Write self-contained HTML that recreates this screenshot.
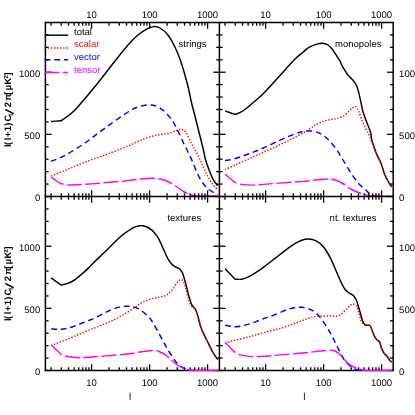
<!DOCTYPE html>
<html><head><meta charset="utf-8"><title>chart</title>
<style>
html,body{margin:0;padding:0;background:#fff;}
body{width:415px;height:415px;overflow:hidden;}
svg{display:block;}
svg text{font-family:"Liberation Sans",sans-serif;}
</style></head><body>
<svg width="415" height="415" viewBox="0 0 415 415">
<rect width="415" height="415" fill="#fff"/>
<path d="M51.07 121.50 C52.71 121.38 59.26 120.92 60.90 120.80 C62.10 119.98 65.93 117.52 68.10 115.90 C70.27 114.28 71.73 113.23 73.90 111.10 C76.07 108.97 78.68 105.87 81.10 103.10 C83.52 100.33 85.98 97.38 88.40 94.50 C90.82 91.62 92.92 89.13 95.60 85.80 C98.28 82.47 101.10 78.83 104.50 74.50 C107.90 70.17 112.08 64.72 116.00 59.80 C119.92 54.88 124.33 49.13 128.00 45.00 C131.67 40.87 134.67 37.77 138.00 35.00 C141.33 32.23 145.33 29.80 148.00 28.40 C150.67 27.00 152.00 26.67 154.00 26.60 C156.00 26.53 157.67 26.60 160.00 28.00 C162.33 29.40 165.43 31.67 168.00 35.00 C170.57 38.33 173.23 43.50 175.40 48.00 C177.57 52.50 179.00 56.00 181.00 62.00 C183.00 68.00 185.63 77.17 187.40 84.00 C189.17 90.83 190.30 97.50 191.60 103.00 C192.90 108.50 193.93 112.00 195.20 117.00 C196.47 122.00 197.87 127.67 199.20 133.00 C200.53 138.33 202.13 144.50 203.20 149.00 C204.27 153.50 204.58 156.40 205.60 160.00 C206.62 163.60 208.05 167.38 209.30 170.60 C210.55 173.82 211.72 176.80 213.10 179.30 C214.48 181.80 216.85 184.55 217.60 185.60" fill="none" stroke="#000000" stroke-width="1.45"/>
<path d="M51.00 176.00 C53.83 174.87 62.33 171.50 68.00 169.20 C73.67 166.90 78.83 164.57 85.00 162.20 C91.17 159.83 97.83 157.70 105.00 155.00 C112.17 152.30 122.50 148.25 128.00 146.00 C133.50 143.75 134.67 142.92 138.00 141.50 C141.33 140.08 144.67 138.58 148.00 137.50 C151.33 136.42 154.67 135.67 158.00 135.00 C161.33 134.33 165.00 134.20 168.00 133.50 C171.00 132.80 173.75 131.50 176.00 130.80 C178.25 130.10 179.83 129.02 181.50 129.30 C183.17 129.58 184.37 130.22 186.00 132.50 C187.63 134.78 189.60 139.75 191.30 143.00 C193.00 146.25 194.65 149.00 196.20 152.00 C197.75 155.00 199.22 158.07 200.60 161.00 C201.98 163.93 203.05 166.55 204.50 169.60 C205.95 172.65 207.70 176.57 209.30 179.30 C210.90 182.03 212.72 184.30 214.10 186.00 C215.48 187.70 217.02 188.92 217.60 189.50" fill="none" stroke="#ff0000" stroke-width="1.45" stroke-dasharray="1.4 1.7"/>
<path d="M51.00 161.40 C53.33 160.40 59.33 158.47 65.00 155.40 C70.67 152.33 78.33 147.57 85.00 143.00 C91.67 138.43 97.83 133.17 105.00 128.00 C112.17 122.83 122.50 115.50 128.00 112.00 C133.50 108.50 134.67 108.17 138.00 107.00 C141.33 105.83 145.00 105.17 148.00 105.00 C151.00 104.83 153.33 105.00 156.00 106.00 C158.67 107.00 161.33 108.67 164.00 111.00 C166.67 113.33 169.67 116.67 172.00 120.00 C174.33 123.33 176.00 127.00 178.00 131.00 C180.00 135.00 182.33 140.50 184.00 144.00 C185.67 147.50 186.68 149.28 188.00 152.00 C189.32 154.72 190.60 157.37 191.90 160.30 C193.20 163.23 194.52 166.68 195.80 169.60 C197.08 172.52 198.15 175.20 199.60 177.80 C201.05 180.40 202.88 183.22 204.50 185.20 C206.12 187.18 207.70 188.43 209.30 189.70 C210.90 190.97 212.68 192.05 214.10 192.80 C215.52 193.55 217.18 193.97 217.80 194.20" fill="none" stroke="#0000ff" stroke-width="1.45" stroke-dasharray="5.8 3.85"/>
<path d="M51.00 177.00 C51.83 177.58 54.33 179.40 56.00 180.50 C57.67 181.60 58.50 182.85 61.00 183.60 C63.50 184.35 65.33 185.00 71.00 185.00 C76.67 185.00 85.50 184.33 95.00 183.60 C104.50 182.87 120.50 181.37 128.00 180.60 C135.50 179.83 136.00 179.40 140.00 179.00 C144.00 178.60 148.67 178.20 152.00 178.20 C155.33 178.20 157.37 178.45 160.00 179.00 C162.63 179.55 165.18 180.33 167.80 181.50 C170.42 182.67 173.08 184.33 175.70 186.00 C178.32 187.67 180.90 190.00 183.50 191.50 C186.10 193.00 188.72 194.25 191.30 195.00 C193.88 195.75 197.72 195.83 199.00 196.00" fill="none" stroke="#ff00ff" stroke-width="1.45" stroke-dasharray="14.7 3.6"/>
<path d="M199.00 196.00 C202.13 196.00 214.67 196.00 217.80 196.00" fill="none" stroke="#ff00ff" stroke-width="1.45"/>
<path d="M225.06 110.90 C226.75 111.50 233.51 113.90 235.20 114.50 C236.28 114.02 239.82 112.63 241.70 111.60 C243.58 110.57 244.82 109.62 246.50 108.30 C248.18 106.98 249.23 105.92 251.80 103.70 C254.37 101.48 258.87 97.87 261.90 95.00 C264.93 92.13 266.98 89.75 270.00 86.50 C273.02 83.25 275.92 79.98 280.00 75.50 C284.08 71.02 290.67 63.48 294.50 59.60 C298.33 55.72 300.60 54.25 303.00 52.20 C305.40 50.15 306.72 48.60 308.90 47.30 C311.08 46.00 313.83 45.08 316.10 44.40 C318.37 43.72 320.52 43.10 322.50 43.20 C324.48 43.30 326.42 44.07 328.00 45.00 C329.58 45.93 330.85 47.45 332.00 48.80 C333.15 50.15 333.57 51.05 334.90 53.10 C336.23 55.15 338.78 58.97 340.00 61.10 C341.22 63.23 341.10 63.90 342.20 65.90 C343.30 67.90 345.22 71.12 346.60 73.10 C347.98 75.08 349.30 76.47 350.50 77.80 C351.70 79.13 352.77 79.72 353.80 81.10 C354.83 82.48 355.95 84.45 356.70 86.10 C357.45 87.75 357.82 89.30 358.30 91.00 C358.78 92.70 359.13 94.30 359.60 96.30 C360.07 98.30 360.62 100.72 361.10 103.00 C361.58 105.28 362.03 108.08 362.50 110.00 C362.97 111.92 363.15 112.33 363.90 114.50 C364.65 116.67 365.92 120.12 367.00 123.00 C368.08 125.88 369.60 128.97 370.40 131.80 C371.20 134.63 371.25 137.63 371.80 140.00 C372.35 142.37 372.98 143.83 373.70 146.00 C374.42 148.17 374.85 150.02 376.10 153.00 C377.35 155.98 379.75 160.28 381.20 163.90 C382.65 167.52 383.42 171.42 384.80 174.70 C386.18 177.98 388.33 181.58 389.50 183.60 C390.67 185.62 391.42 186.27 391.80 186.80" fill="none" stroke="#000000" stroke-width="1.45"/>
<path d="M225.06 169.60 C226.63 168.88 230.53 167.10 234.50 165.30 C238.47 163.50 244.08 160.97 248.90 158.80 C253.72 156.63 258.22 154.65 263.40 152.30 C268.58 149.95 274.82 147.15 280.00 144.70 C285.18 142.25 290.05 139.90 294.50 137.60 C298.95 135.30 303.10 133.07 306.70 130.90 C310.30 128.73 313.32 126.20 316.10 124.60 C318.88 123.00 320.98 122.13 323.40 121.30 C325.82 120.47 328.33 120.05 330.60 119.60 C332.87 119.15 334.82 119.22 337.00 118.60 C339.18 117.98 341.62 117.20 343.70 115.90 C345.78 114.60 348.03 112.15 349.50 110.80 C350.97 109.45 351.55 108.52 352.50 107.80 C353.45 107.08 354.45 106.50 355.20 106.50 C355.95 106.50 356.38 106.95 357.00 107.80 C357.62 108.65 357.98 109.28 358.90 111.60 C359.82 113.92 360.93 118.08 362.50 121.70 C364.07 125.32 366.75 129.92 368.30 133.30 C369.85 136.68 370.90 139.88 371.80 142.00 C372.70 144.12 372.98 144.17 373.70 146.00 C374.42 147.83 374.85 150.02 376.10 153.00 C377.35 155.98 379.75 160.28 381.20 163.90 C382.65 167.52 383.42 171.42 384.80 174.70 C386.18 177.98 388.33 181.58 389.50 183.60 C390.67 185.62 391.42 186.27 391.80 186.80" fill="none" stroke="#ff0000" stroke-width="1.45" stroke-dasharray="1.4 1.7"/>
<path d="M225.06 160.50 C226.63 160.22 230.53 159.93 234.50 158.80 C238.47 157.67 244.08 155.50 248.90 153.70 C253.72 151.90 258.22 150.25 263.40 148.00 C268.58 145.75 274.82 142.53 280.00 140.20 C285.18 137.87 290.88 135.38 294.50 134.00 C298.12 132.62 299.30 132.42 301.70 131.90 C304.10 131.38 306.50 130.90 308.90 130.90 C311.30 130.90 313.68 131.13 316.10 131.90 C318.52 132.67 320.98 133.82 323.40 135.50 C325.82 137.18 328.20 139.35 330.60 142.00 C333.00 144.65 335.73 148.40 337.80 151.40 C339.87 154.40 340.80 156.40 343.00 160.00 C345.20 163.60 348.42 169.08 351.00 173.00 C353.58 176.92 356.20 180.83 358.50 183.50 C360.80 186.17 362.85 187.27 364.80 189.00 C366.75 190.73 368.33 192.73 370.20 193.90 C372.07 195.07 375.03 195.65 376.00 196.00" fill="none" stroke="#0000ff" stroke-width="1.45" stroke-dasharray="5.8 3.85"/>
<path d="M225.06 174.30 C226.75 175.68 233.51 181.22 235.20 182.60 C236.03 182.85 237.18 183.68 240.20 184.10 C243.22 184.52 249.43 185.05 253.30 185.10 C257.17 185.15 258.95 184.73 263.40 184.40 C267.85 184.07 273.40 183.60 280.00 183.10 C286.60 182.60 297.17 181.92 303.00 181.40 C308.83 180.88 311.00 180.40 315.00 180.00 C319.00 179.60 323.67 179.00 327.00 179.00 C330.33 179.00 332.37 179.25 335.00 180.00 C337.63 180.75 340.18 182.00 342.80 183.50 C345.42 185.00 348.08 187.50 350.70 189.00 C353.32 190.50 356.15 191.57 358.50 192.50 C360.85 193.43 362.95 194.08 364.80 194.60 C366.65 195.12 367.90 195.38 369.60 195.60 C371.30 195.82 374.10 195.85 375.00 195.90" fill="none" stroke="#ff00ff" stroke-width="1.45" stroke-dasharray="14.7 3.6"/>
<path d="M375.00 195.90 C376.08 195.90 380.17 195.83 381.50 195.90 C382.83 195.97 381.28 196.23 383.00 196.30 C384.72 196.37 390.33 196.30 391.80 196.30" fill="none" stroke="#ff00ff" stroke-width="1.45"/>
<line x1="51.06" y1="22.50" x2="51.06" y2="25.70" stroke="#000" stroke-width="1.30"/>
<line x1="61.27" y1="22.50" x2="61.27" y2="25.70" stroke="#000" stroke-width="1.30"/>
<line x1="68.52" y1="22.50" x2="68.52" y2="25.70" stroke="#000" stroke-width="1.30"/>
<line x1="74.14" y1="22.50" x2="74.14" y2="25.70" stroke="#000" stroke-width="1.30"/>
<line x1="78.73" y1="22.50" x2="78.73" y2="25.70" stroke="#000" stroke-width="1.30"/>
<line x1="82.62" y1="22.50" x2="82.62" y2="25.70" stroke="#000" stroke-width="1.30"/>
<line x1="85.98" y1="22.50" x2="85.98" y2="25.70" stroke="#000" stroke-width="1.30"/>
<line x1="88.95" y1="22.50" x2="88.95" y2="25.70" stroke="#000" stroke-width="1.30"/>
<line x1="91.60" y1="22.50" x2="91.60" y2="28.70" stroke="#000" stroke-width="1.30"/>
<line x1="109.06" y1="22.50" x2="109.06" y2="25.70" stroke="#000" stroke-width="1.30"/>
<line x1="119.27" y1="22.50" x2="119.27" y2="25.70" stroke="#000" stroke-width="1.30"/>
<line x1="126.52" y1="22.50" x2="126.52" y2="25.70" stroke="#000" stroke-width="1.30"/>
<line x1="132.14" y1="22.50" x2="132.14" y2="25.70" stroke="#000" stroke-width="1.30"/>
<line x1="136.73" y1="22.50" x2="136.73" y2="25.70" stroke="#000" stroke-width="1.30"/>
<line x1="140.62" y1="22.50" x2="140.62" y2="25.70" stroke="#000" stroke-width="1.30"/>
<line x1="143.98" y1="22.50" x2="143.98" y2="25.70" stroke="#000" stroke-width="1.30"/>
<line x1="146.95" y1="22.50" x2="146.95" y2="25.70" stroke="#000" stroke-width="1.30"/>
<line x1="149.60" y1="22.50" x2="149.60" y2="28.70" stroke="#000" stroke-width="1.30"/>
<line x1="167.06" y1="22.50" x2="167.06" y2="25.70" stroke="#000" stroke-width="1.30"/>
<line x1="177.27" y1="22.50" x2="177.27" y2="25.70" stroke="#000" stroke-width="1.30"/>
<line x1="184.52" y1="22.50" x2="184.52" y2="25.70" stroke="#000" stroke-width="1.30"/>
<line x1="190.14" y1="22.50" x2="190.14" y2="25.70" stroke="#000" stroke-width="1.30"/>
<line x1="194.73" y1="22.50" x2="194.73" y2="25.70" stroke="#000" stroke-width="1.30"/>
<line x1="198.62" y1="22.50" x2="198.62" y2="25.70" stroke="#000" stroke-width="1.30"/>
<line x1="201.98" y1="22.50" x2="201.98" y2="25.70" stroke="#000" stroke-width="1.30"/>
<line x1="204.95" y1="22.50" x2="204.95" y2="25.70" stroke="#000" stroke-width="1.30"/>
<line x1="207.60" y1="22.50" x2="207.60" y2="28.70" stroke="#000" stroke-width="1.30"/>
<line x1="225.06" y1="22.50" x2="225.06" y2="25.70" stroke="#000" stroke-width="1.30"/>
<line x1="235.27" y1="22.50" x2="235.27" y2="25.70" stroke="#000" stroke-width="1.30"/>
<line x1="242.52" y1="22.50" x2="242.52" y2="25.70" stroke="#000" stroke-width="1.30"/>
<line x1="248.14" y1="22.50" x2="248.14" y2="25.70" stroke="#000" stroke-width="1.30"/>
<line x1="252.73" y1="22.50" x2="252.73" y2="25.70" stroke="#000" stroke-width="1.30"/>
<line x1="256.62" y1="22.50" x2="256.62" y2="25.70" stroke="#000" stroke-width="1.30"/>
<line x1="259.98" y1="22.50" x2="259.98" y2="25.70" stroke="#000" stroke-width="1.30"/>
<line x1="262.95" y1="22.50" x2="262.95" y2="25.70" stroke="#000" stroke-width="1.30"/>
<line x1="265.60" y1="22.50" x2="265.60" y2="28.70" stroke="#000" stroke-width="1.30"/>
<line x1="283.06" y1="22.50" x2="283.06" y2="25.70" stroke="#000" stroke-width="1.30"/>
<line x1="293.27" y1="22.50" x2="293.27" y2="25.70" stroke="#000" stroke-width="1.30"/>
<line x1="300.52" y1="22.50" x2="300.52" y2="25.70" stroke="#000" stroke-width="1.30"/>
<line x1="306.14" y1="22.50" x2="306.14" y2="25.70" stroke="#000" stroke-width="1.30"/>
<line x1="310.73" y1="22.50" x2="310.73" y2="25.70" stroke="#000" stroke-width="1.30"/>
<line x1="314.62" y1="22.50" x2="314.62" y2="25.70" stroke="#000" stroke-width="1.30"/>
<line x1="317.98" y1="22.50" x2="317.98" y2="25.70" stroke="#000" stroke-width="1.30"/>
<line x1="320.95" y1="22.50" x2="320.95" y2="25.70" stroke="#000" stroke-width="1.30"/>
<line x1="323.60" y1="22.50" x2="323.60" y2="28.70" stroke="#000" stroke-width="1.30"/>
<line x1="341.06" y1="22.50" x2="341.06" y2="25.70" stroke="#000" stroke-width="1.30"/>
<line x1="351.27" y1="22.50" x2="351.27" y2="25.70" stroke="#000" stroke-width="1.30"/>
<line x1="358.52" y1="22.50" x2="358.52" y2="25.70" stroke="#000" stroke-width="1.30"/>
<line x1="364.14" y1="22.50" x2="364.14" y2="25.70" stroke="#000" stroke-width="1.30"/>
<line x1="368.73" y1="22.50" x2="368.73" y2="25.70" stroke="#000" stroke-width="1.30"/>
<line x1="372.62" y1="22.50" x2="372.62" y2="25.70" stroke="#000" stroke-width="1.30"/>
<line x1="375.98" y1="22.50" x2="375.98" y2="25.70" stroke="#000" stroke-width="1.30"/>
<line x1="378.95" y1="22.50" x2="378.95" y2="25.70" stroke="#000" stroke-width="1.30"/>
<line x1="381.60" y1="22.50" x2="381.60" y2="28.70" stroke="#000" stroke-width="1.30"/>
<line x1="51.06" y1="193.30" x2="51.06" y2="199.70" stroke="#000" stroke-width="1.30"/>
<line x1="61.27" y1="193.30" x2="61.27" y2="199.70" stroke="#000" stroke-width="1.30"/>
<line x1="68.52" y1="193.30" x2="68.52" y2="199.70" stroke="#000" stroke-width="1.30"/>
<line x1="74.14" y1="193.30" x2="74.14" y2="199.70" stroke="#000" stroke-width="1.30"/>
<line x1="78.73" y1="193.30" x2="78.73" y2="199.70" stroke="#000" stroke-width="1.30"/>
<line x1="82.62" y1="193.30" x2="82.62" y2="199.70" stroke="#000" stroke-width="1.30"/>
<line x1="85.98" y1="193.30" x2="85.98" y2="199.70" stroke="#000" stroke-width="1.30"/>
<line x1="88.95" y1="193.30" x2="88.95" y2="199.70" stroke="#000" stroke-width="1.30"/>
<line x1="91.60" y1="190.30" x2="91.60" y2="202.70" stroke="#000" stroke-width="1.30"/>
<line x1="109.06" y1="193.30" x2="109.06" y2="199.70" stroke="#000" stroke-width="1.30"/>
<line x1="119.27" y1="193.30" x2="119.27" y2="199.70" stroke="#000" stroke-width="1.30"/>
<line x1="126.52" y1="193.30" x2="126.52" y2="199.70" stroke="#000" stroke-width="1.30"/>
<line x1="132.14" y1="193.30" x2="132.14" y2="199.70" stroke="#000" stroke-width="1.30"/>
<line x1="136.73" y1="193.30" x2="136.73" y2="199.70" stroke="#000" stroke-width="1.30"/>
<line x1="140.62" y1="193.30" x2="140.62" y2="199.70" stroke="#000" stroke-width="1.30"/>
<line x1="143.98" y1="193.30" x2="143.98" y2="199.70" stroke="#000" stroke-width="1.30"/>
<line x1="146.95" y1="193.30" x2="146.95" y2="199.70" stroke="#000" stroke-width="1.30"/>
<line x1="149.60" y1="190.30" x2="149.60" y2="202.70" stroke="#000" stroke-width="1.30"/>
<line x1="167.06" y1="193.30" x2="167.06" y2="199.70" stroke="#000" stroke-width="1.30"/>
<line x1="177.27" y1="193.30" x2="177.27" y2="199.70" stroke="#000" stroke-width="1.30"/>
<line x1="184.52" y1="193.30" x2="184.52" y2="199.70" stroke="#000" stroke-width="1.30"/>
<line x1="190.14" y1="193.30" x2="190.14" y2="199.70" stroke="#000" stroke-width="1.30"/>
<line x1="194.73" y1="193.30" x2="194.73" y2="199.70" stroke="#000" stroke-width="1.30"/>
<line x1="198.62" y1="193.30" x2="198.62" y2="199.70" stroke="#000" stroke-width="1.30"/>
<line x1="201.98" y1="193.30" x2="201.98" y2="199.70" stroke="#000" stroke-width="1.30"/>
<line x1="204.95" y1="193.30" x2="204.95" y2="199.70" stroke="#000" stroke-width="1.30"/>
<line x1="207.60" y1="190.30" x2="207.60" y2="202.70" stroke="#000" stroke-width="1.30"/>
<line x1="225.06" y1="193.30" x2="225.06" y2="199.70" stroke="#000" stroke-width="1.30"/>
<line x1="235.27" y1="193.30" x2="235.27" y2="199.70" stroke="#000" stroke-width="1.30"/>
<line x1="242.52" y1="193.30" x2="242.52" y2="199.70" stroke="#000" stroke-width="1.30"/>
<line x1="248.14" y1="193.30" x2="248.14" y2="199.70" stroke="#000" stroke-width="1.30"/>
<line x1="252.73" y1="193.30" x2="252.73" y2="199.70" stroke="#000" stroke-width="1.30"/>
<line x1="256.62" y1="193.30" x2="256.62" y2="199.70" stroke="#000" stroke-width="1.30"/>
<line x1="259.98" y1="193.30" x2="259.98" y2="199.70" stroke="#000" stroke-width="1.30"/>
<line x1="262.95" y1="193.30" x2="262.95" y2="199.70" stroke="#000" stroke-width="1.30"/>
<line x1="265.60" y1="190.30" x2="265.60" y2="202.70" stroke="#000" stroke-width="1.30"/>
<line x1="283.06" y1="193.30" x2="283.06" y2="199.70" stroke="#000" stroke-width="1.30"/>
<line x1="293.27" y1="193.30" x2="293.27" y2="199.70" stroke="#000" stroke-width="1.30"/>
<line x1="300.52" y1="193.30" x2="300.52" y2="199.70" stroke="#000" stroke-width="1.30"/>
<line x1="306.14" y1="193.30" x2="306.14" y2="199.70" stroke="#000" stroke-width="1.30"/>
<line x1="310.73" y1="193.30" x2="310.73" y2="199.70" stroke="#000" stroke-width="1.30"/>
<line x1="314.62" y1="193.30" x2="314.62" y2="199.70" stroke="#000" stroke-width="1.30"/>
<line x1="317.98" y1="193.30" x2="317.98" y2="199.70" stroke="#000" stroke-width="1.30"/>
<line x1="320.95" y1="193.30" x2="320.95" y2="199.70" stroke="#000" stroke-width="1.30"/>
<line x1="323.60" y1="190.30" x2="323.60" y2="202.70" stroke="#000" stroke-width="1.30"/>
<line x1="341.06" y1="193.30" x2="341.06" y2="199.70" stroke="#000" stroke-width="1.30"/>
<line x1="351.27" y1="193.30" x2="351.27" y2="199.70" stroke="#000" stroke-width="1.30"/>
<line x1="358.52" y1="193.30" x2="358.52" y2="199.70" stroke="#000" stroke-width="1.30"/>
<line x1="364.14" y1="193.30" x2="364.14" y2="199.70" stroke="#000" stroke-width="1.30"/>
<line x1="368.73" y1="193.30" x2="368.73" y2="199.70" stroke="#000" stroke-width="1.30"/>
<line x1="372.62" y1="193.30" x2="372.62" y2="199.70" stroke="#000" stroke-width="1.30"/>
<line x1="375.98" y1="193.30" x2="375.98" y2="199.70" stroke="#000" stroke-width="1.30"/>
<line x1="378.95" y1="193.30" x2="378.95" y2="199.70" stroke="#000" stroke-width="1.30"/>
<line x1="381.60" y1="190.30" x2="381.60" y2="202.70" stroke="#000" stroke-width="1.30"/>
<line x1="45.40" y1="196.50" x2="51.60" y2="196.50" stroke="#000" stroke-width="1.30"/>
<line x1="45.40" y1="184.07" x2="48.60" y2="184.07" stroke="#000" stroke-width="1.30"/>
<line x1="45.40" y1="171.64" x2="48.60" y2="171.64" stroke="#000" stroke-width="1.30"/>
<line x1="45.40" y1="159.21" x2="48.60" y2="159.21" stroke="#000" stroke-width="1.30"/>
<line x1="45.40" y1="146.79" x2="48.60" y2="146.79" stroke="#000" stroke-width="1.30"/>
<line x1="45.40" y1="134.36" x2="51.60" y2="134.36" stroke="#000" stroke-width="1.30"/>
<line x1="45.40" y1="121.93" x2="48.60" y2="121.93" stroke="#000" stroke-width="1.30"/>
<line x1="45.40" y1="109.50" x2="48.60" y2="109.50" stroke="#000" stroke-width="1.30"/>
<line x1="45.40" y1="97.07" x2="48.60" y2="97.07" stroke="#000" stroke-width="1.30"/>
<line x1="45.40" y1="84.64" x2="48.60" y2="84.64" stroke="#000" stroke-width="1.30"/>
<line x1="45.40" y1="72.21" x2="51.60" y2="72.21" stroke="#000" stroke-width="1.30"/>
<line x1="45.40" y1="59.79" x2="48.60" y2="59.79" stroke="#000" stroke-width="1.30"/>
<line x1="45.40" y1="47.36" x2="48.60" y2="47.36" stroke="#000" stroke-width="1.30"/>
<line x1="45.40" y1="34.93" x2="48.60" y2="34.93" stroke="#000" stroke-width="1.30"/>
<line x1="45.40" y1="370.50" x2="51.60" y2="370.50" stroke="#000" stroke-width="1.30"/>
<line x1="45.40" y1="358.07" x2="48.60" y2="358.07" stroke="#000" stroke-width="1.30"/>
<line x1="45.40" y1="345.64" x2="48.60" y2="345.64" stroke="#000" stroke-width="1.30"/>
<line x1="45.40" y1="333.21" x2="48.60" y2="333.21" stroke="#000" stroke-width="1.30"/>
<line x1="45.40" y1="320.79" x2="48.60" y2="320.79" stroke="#000" stroke-width="1.30"/>
<line x1="45.40" y1="308.36" x2="51.60" y2="308.36" stroke="#000" stroke-width="1.30"/>
<line x1="45.40" y1="295.93" x2="48.60" y2="295.93" stroke="#000" stroke-width="1.30"/>
<line x1="45.40" y1="283.50" x2="48.60" y2="283.50" stroke="#000" stroke-width="1.30"/>
<line x1="45.40" y1="271.07" x2="48.60" y2="271.07" stroke="#000" stroke-width="1.30"/>
<line x1="45.40" y1="258.64" x2="48.60" y2="258.64" stroke="#000" stroke-width="1.30"/>
<line x1="45.40" y1="246.21" x2="51.60" y2="246.21" stroke="#000" stroke-width="1.30"/>
<line x1="45.40" y1="233.79" x2="48.60" y2="233.79" stroke="#000" stroke-width="1.30"/>
<line x1="45.40" y1="221.36" x2="48.60" y2="221.36" stroke="#000" stroke-width="1.30"/>
<line x1="45.40" y1="208.93" x2="48.60" y2="208.93" stroke="#000" stroke-width="1.30"/>
<line x1="213.20" y1="196.50" x2="225.60" y2="196.50" stroke="#000" stroke-width="1.30"/>
<line x1="216.20" y1="184.07" x2="222.60" y2="184.07" stroke="#000" stroke-width="1.30"/>
<line x1="216.20" y1="171.64" x2="222.60" y2="171.64" stroke="#000" stroke-width="1.30"/>
<line x1="216.20" y1="159.21" x2="222.60" y2="159.21" stroke="#000" stroke-width="1.30"/>
<line x1="216.20" y1="146.79" x2="222.60" y2="146.79" stroke="#000" stroke-width="1.30"/>
<line x1="213.20" y1="134.36" x2="225.60" y2="134.36" stroke="#000" stroke-width="1.30"/>
<line x1="216.20" y1="121.93" x2="222.60" y2="121.93" stroke="#000" stroke-width="1.30"/>
<line x1="216.20" y1="109.50" x2="222.60" y2="109.50" stroke="#000" stroke-width="1.30"/>
<line x1="216.20" y1="97.07" x2="222.60" y2="97.07" stroke="#000" stroke-width="1.30"/>
<line x1="216.20" y1="84.64" x2="222.60" y2="84.64" stroke="#000" stroke-width="1.30"/>
<line x1="213.20" y1="72.21" x2="225.60" y2="72.21" stroke="#000" stroke-width="1.30"/>
<line x1="216.20" y1="59.79" x2="222.60" y2="59.79" stroke="#000" stroke-width="1.30"/>
<line x1="216.20" y1="47.36" x2="222.60" y2="47.36" stroke="#000" stroke-width="1.30"/>
<line x1="216.20" y1="34.93" x2="222.60" y2="34.93" stroke="#000" stroke-width="1.30"/>
<line x1="213.20" y1="370.50" x2="225.60" y2="370.50" stroke="#000" stroke-width="1.30"/>
<line x1="216.20" y1="358.07" x2="222.60" y2="358.07" stroke="#000" stroke-width="1.30"/>
<line x1="216.20" y1="345.64" x2="222.60" y2="345.64" stroke="#000" stroke-width="1.30"/>
<line x1="216.20" y1="333.21" x2="222.60" y2="333.21" stroke="#000" stroke-width="1.30"/>
<line x1="216.20" y1="320.79" x2="222.60" y2="320.79" stroke="#000" stroke-width="1.30"/>
<line x1="213.20" y1="308.36" x2="225.60" y2="308.36" stroke="#000" stroke-width="1.30"/>
<line x1="216.20" y1="295.93" x2="222.60" y2="295.93" stroke="#000" stroke-width="1.30"/>
<line x1="216.20" y1="283.50" x2="222.60" y2="283.50" stroke="#000" stroke-width="1.30"/>
<line x1="216.20" y1="271.07" x2="222.60" y2="271.07" stroke="#000" stroke-width="1.30"/>
<line x1="216.20" y1="258.64" x2="222.60" y2="258.64" stroke="#000" stroke-width="1.30"/>
<line x1="213.20" y1="246.21" x2="225.60" y2="246.21" stroke="#000" stroke-width="1.30"/>
<line x1="216.20" y1="233.79" x2="222.60" y2="233.79" stroke="#000" stroke-width="1.30"/>
<line x1="216.20" y1="221.36" x2="222.60" y2="221.36" stroke="#000" stroke-width="1.30"/>
<line x1="216.20" y1="208.93" x2="222.60" y2="208.93" stroke="#000" stroke-width="1.30"/>
<line x1="387.00" y1="196.50" x2="393.20" y2="196.50" stroke="#000" stroke-width="1.30"/>
<line x1="390.00" y1="184.07" x2="393.20" y2="184.07" stroke="#000" stroke-width="1.30"/>
<line x1="390.00" y1="171.64" x2="393.20" y2="171.64" stroke="#000" stroke-width="1.30"/>
<line x1="390.00" y1="159.21" x2="393.20" y2="159.21" stroke="#000" stroke-width="1.30"/>
<line x1="390.00" y1="146.79" x2="393.20" y2="146.79" stroke="#000" stroke-width="1.30"/>
<line x1="387.00" y1="134.36" x2="393.20" y2="134.36" stroke="#000" stroke-width="1.30"/>
<line x1="390.00" y1="121.93" x2="393.20" y2="121.93" stroke="#000" stroke-width="1.30"/>
<line x1="390.00" y1="109.50" x2="393.20" y2="109.50" stroke="#000" stroke-width="1.30"/>
<line x1="390.00" y1="97.07" x2="393.20" y2="97.07" stroke="#000" stroke-width="1.30"/>
<line x1="390.00" y1="84.64" x2="393.20" y2="84.64" stroke="#000" stroke-width="1.30"/>
<line x1="387.00" y1="72.21" x2="393.20" y2="72.21" stroke="#000" stroke-width="1.30"/>
<line x1="390.00" y1="59.79" x2="393.20" y2="59.79" stroke="#000" stroke-width="1.30"/>
<line x1="390.00" y1="47.36" x2="393.20" y2="47.36" stroke="#000" stroke-width="1.30"/>
<line x1="390.00" y1="34.93" x2="393.20" y2="34.93" stroke="#000" stroke-width="1.30"/>
<line x1="387.00" y1="370.50" x2="393.20" y2="370.50" stroke="#000" stroke-width="1.30"/>
<line x1="390.00" y1="358.07" x2="393.20" y2="358.07" stroke="#000" stroke-width="1.30"/>
<line x1="390.00" y1="345.64" x2="393.20" y2="345.64" stroke="#000" stroke-width="1.30"/>
<line x1="390.00" y1="333.21" x2="393.20" y2="333.21" stroke="#000" stroke-width="1.30"/>
<line x1="390.00" y1="320.79" x2="393.20" y2="320.79" stroke="#000" stroke-width="1.30"/>
<line x1="387.00" y1="308.36" x2="393.20" y2="308.36" stroke="#000" stroke-width="1.30"/>
<line x1="390.00" y1="295.93" x2="393.20" y2="295.93" stroke="#000" stroke-width="1.30"/>
<line x1="390.00" y1="283.50" x2="393.20" y2="283.50" stroke="#000" stroke-width="1.30"/>
<line x1="390.00" y1="271.07" x2="393.20" y2="271.07" stroke="#000" stroke-width="1.30"/>
<line x1="390.00" y1="258.64" x2="393.20" y2="258.64" stroke="#000" stroke-width="1.30"/>
<line x1="387.00" y1="246.21" x2="393.20" y2="246.21" stroke="#000" stroke-width="1.30"/>
<line x1="390.00" y1="233.79" x2="393.20" y2="233.79" stroke="#000" stroke-width="1.30"/>
<line x1="390.00" y1="221.36" x2="393.20" y2="221.36" stroke="#000" stroke-width="1.30"/>
<line x1="390.00" y1="208.93" x2="393.20" y2="208.93" stroke="#000" stroke-width="1.30"/>
<line x1="51.06" y1="367.30" x2="51.06" y2="370.50" stroke="#000" stroke-width="1.30"/>
<line x1="61.27" y1="367.30" x2="61.27" y2="370.50" stroke="#000" stroke-width="1.30"/>
<line x1="68.52" y1="367.30" x2="68.52" y2="370.50" stroke="#000" stroke-width="1.30"/>
<line x1="74.14" y1="367.30" x2="74.14" y2="370.50" stroke="#000" stroke-width="1.30"/>
<line x1="78.73" y1="367.30" x2="78.73" y2="370.50" stroke="#000" stroke-width="1.30"/>
<line x1="82.62" y1="367.30" x2="82.62" y2="370.50" stroke="#000" stroke-width="1.30"/>
<line x1="85.98" y1="367.30" x2="85.98" y2="370.50" stroke="#000" stroke-width="1.30"/>
<line x1="88.95" y1="367.30" x2="88.95" y2="370.50" stroke="#000" stroke-width="1.30"/>
<line x1="91.60" y1="364.30" x2="91.60" y2="370.50" stroke="#000" stroke-width="1.30"/>
<line x1="109.06" y1="367.30" x2="109.06" y2="370.50" stroke="#000" stroke-width="1.30"/>
<line x1="119.27" y1="367.30" x2="119.27" y2="370.50" stroke="#000" stroke-width="1.30"/>
<line x1="126.52" y1="367.30" x2="126.52" y2="370.50" stroke="#000" stroke-width="1.30"/>
<line x1="132.14" y1="367.30" x2="132.14" y2="370.50" stroke="#000" stroke-width="1.30"/>
<line x1="136.73" y1="367.30" x2="136.73" y2="370.50" stroke="#000" stroke-width="1.30"/>
<line x1="140.62" y1="367.30" x2="140.62" y2="370.50" stroke="#000" stroke-width="1.30"/>
<line x1="143.98" y1="367.30" x2="143.98" y2="370.50" stroke="#000" stroke-width="1.30"/>
<line x1="146.95" y1="367.30" x2="146.95" y2="370.50" stroke="#000" stroke-width="1.30"/>
<line x1="149.60" y1="364.30" x2="149.60" y2="370.50" stroke="#000" stroke-width="1.30"/>
<line x1="167.06" y1="367.30" x2="167.06" y2="370.50" stroke="#000" stroke-width="1.30"/>
<line x1="177.27" y1="367.30" x2="177.27" y2="370.50" stroke="#000" stroke-width="1.30"/>
<line x1="184.52" y1="367.30" x2="184.52" y2="370.50" stroke="#000" stroke-width="1.30"/>
<line x1="190.14" y1="367.30" x2="190.14" y2="370.50" stroke="#000" stroke-width="1.30"/>
<line x1="194.73" y1="367.30" x2="194.73" y2="370.50" stroke="#000" stroke-width="1.30"/>
<line x1="198.62" y1="367.30" x2="198.62" y2="370.50" stroke="#000" stroke-width="1.30"/>
<line x1="201.98" y1="367.30" x2="201.98" y2="370.50" stroke="#000" stroke-width="1.30"/>
<line x1="204.95" y1="367.30" x2="204.95" y2="370.50" stroke="#000" stroke-width="1.30"/>
<line x1="207.60" y1="364.30" x2="207.60" y2="370.50" stroke="#000" stroke-width="1.30"/>
<line x1="225.06" y1="367.30" x2="225.06" y2="370.50" stroke="#000" stroke-width="1.30"/>
<line x1="235.27" y1="367.30" x2="235.27" y2="370.50" stroke="#000" stroke-width="1.30"/>
<line x1="242.52" y1="367.30" x2="242.52" y2="370.50" stroke="#000" stroke-width="1.30"/>
<line x1="248.14" y1="367.30" x2="248.14" y2="370.50" stroke="#000" stroke-width="1.30"/>
<line x1="252.73" y1="367.30" x2="252.73" y2="370.50" stroke="#000" stroke-width="1.30"/>
<line x1="256.62" y1="367.30" x2="256.62" y2="370.50" stroke="#000" stroke-width="1.30"/>
<line x1="259.98" y1="367.30" x2="259.98" y2="370.50" stroke="#000" stroke-width="1.30"/>
<line x1="262.95" y1="367.30" x2="262.95" y2="370.50" stroke="#000" stroke-width="1.30"/>
<line x1="265.60" y1="364.30" x2="265.60" y2="370.50" stroke="#000" stroke-width="1.30"/>
<line x1="283.06" y1="367.30" x2="283.06" y2="370.50" stroke="#000" stroke-width="1.30"/>
<line x1="293.27" y1="367.30" x2="293.27" y2="370.50" stroke="#000" stroke-width="1.30"/>
<line x1="300.52" y1="367.30" x2="300.52" y2="370.50" stroke="#000" stroke-width="1.30"/>
<line x1="306.14" y1="367.30" x2="306.14" y2="370.50" stroke="#000" stroke-width="1.30"/>
<line x1="310.73" y1="367.30" x2="310.73" y2="370.50" stroke="#000" stroke-width="1.30"/>
<line x1="314.62" y1="367.30" x2="314.62" y2="370.50" stroke="#000" stroke-width="1.30"/>
<line x1="317.98" y1="367.30" x2="317.98" y2="370.50" stroke="#000" stroke-width="1.30"/>
<line x1="320.95" y1="367.30" x2="320.95" y2="370.50" stroke="#000" stroke-width="1.30"/>
<line x1="323.60" y1="364.30" x2="323.60" y2="370.50" stroke="#000" stroke-width="1.30"/>
<line x1="341.06" y1="367.30" x2="341.06" y2="370.50" stroke="#000" stroke-width="1.30"/>
<line x1="351.27" y1="367.30" x2="351.27" y2="370.50" stroke="#000" stroke-width="1.30"/>
<line x1="358.52" y1="367.30" x2="358.52" y2="370.50" stroke="#000" stroke-width="1.30"/>
<line x1="364.14" y1="367.30" x2="364.14" y2="370.50" stroke="#000" stroke-width="1.30"/>
<line x1="368.73" y1="367.30" x2="368.73" y2="370.50" stroke="#000" stroke-width="1.30"/>
<line x1="372.62" y1="367.30" x2="372.62" y2="370.50" stroke="#000" stroke-width="1.30"/>
<line x1="375.98" y1="367.30" x2="375.98" y2="370.50" stroke="#000" stroke-width="1.30"/>
<line x1="378.95" y1="367.30" x2="378.95" y2="370.50" stroke="#000" stroke-width="1.30"/>
<line x1="381.60" y1="364.30" x2="381.60" y2="370.50" stroke="#000" stroke-width="1.30"/>
<line x1="44.65" y1="22.50" x2="393.95" y2="22.50" stroke="#000" stroke-width="1.50"/>
<line x1="44.65" y1="196.50" x2="393.95" y2="196.50" stroke="#000" stroke-width="1.50"/>
<line x1="44.65" y1="370.50" x2="393.95" y2="370.50" stroke="#000" stroke-width="1.50"/>
<line x1="45.40" y1="22.50" x2="45.40" y2="370.50" stroke="#000" stroke-width="1.50"/>
<line x1="219.40" y1="22.50" x2="219.40" y2="370.50" stroke="#000" stroke-width="1.50"/>
<line x1="393.20" y1="22.50" x2="393.20" y2="370.50" stroke="#000" stroke-width="1.50"/>
<path d="M51.07 277.80 C52.71 279.00 59.26 283.80 60.90 285.00 C62.10 284.72 65.93 284.07 68.10 283.30 C70.27 282.53 71.73 281.85 73.90 280.40 C76.07 278.95 78.68 276.65 81.10 274.60 C83.52 272.55 85.98 270.40 88.40 268.10 C90.82 265.80 92.83 263.52 95.60 260.80 C98.37 258.08 101.02 255.68 105.00 251.80 C108.98 247.92 115.67 240.97 119.50 237.50 C123.33 234.03 125.60 232.68 128.00 231.00 C130.40 229.32 132.15 228.23 133.90 227.40 C135.65 226.57 137.05 226.28 138.50 226.00 C139.95 225.72 141.18 225.53 142.60 225.70 C144.02 225.87 145.55 226.35 147.00 227.00 C148.45 227.65 149.97 228.52 151.30 229.60 C152.63 230.68 153.80 232.05 155.00 233.50 C156.20 234.95 157.07 235.63 158.50 238.30 C159.93 240.97 161.90 245.87 163.60 249.50 C165.30 253.13 167.02 257.37 168.70 260.10 C170.38 262.83 172.02 264.53 173.70 265.90 C175.38 267.27 177.53 267.48 178.80 268.30 C180.07 269.12 180.58 269.75 181.30 270.80 C182.02 271.85 182.32 272.28 183.10 274.60 C183.88 276.92 185.03 281.08 186.00 284.70 C186.97 288.32 187.93 292.93 188.90 296.30 C189.87 299.67 190.72 302.73 191.80 304.90 C192.88 307.07 194.40 307.45 195.40 309.30 C196.40 311.15 196.95 313.22 197.80 316.00 C198.65 318.78 199.48 322.93 200.50 326.00 C201.52 329.07 202.55 331.43 203.90 334.40 C205.25 337.37 207.03 340.67 208.60 343.80 C210.17 346.93 211.78 350.57 213.30 353.20 C214.82 355.83 216.97 358.53 217.70 359.60" fill="none" stroke="#000000" stroke-width="1.45"/>
<path d="M51.07 345.50 C52.48 344.97 55.70 343.80 59.50 342.30 C63.30 340.80 69.08 338.50 73.90 336.50 C78.72 334.50 83.22 332.42 88.40 330.30 C93.58 328.18 99.82 326.00 105.00 323.80 C110.18 321.60 114.68 319.72 119.50 317.10 C124.32 314.48 130.30 310.43 133.90 308.10 C137.50 305.77 138.68 304.47 141.10 303.10 C143.52 301.73 145.98 300.80 148.40 299.90 C150.82 299.00 153.67 298.18 155.60 297.70 C157.53 297.22 158.30 297.37 160.00 297.00 C161.70 296.63 163.87 296.58 165.80 295.50 C167.73 294.42 169.68 292.67 171.60 290.50 C173.52 288.33 175.98 284.22 177.30 282.50 C178.62 280.78 178.88 280.68 179.50 280.20 C180.12 279.72 180.50 279.58 181.00 279.60 C181.50 279.62 182.02 279.82 182.50 280.30 C182.98 280.78 183.32 281.05 183.90 282.50 C184.48 283.95 185.28 286.47 186.00 289.00 C186.72 291.53 187.35 294.92 188.20 297.70 C189.05 300.48 189.90 303.77 191.10 305.70 C192.30 307.63 194.28 307.58 195.40 309.30 C196.52 311.02 196.95 313.22 197.80 316.00 C198.65 318.78 199.48 322.93 200.50 326.00 C201.52 329.07 202.55 331.43 203.90 334.40 C205.25 337.37 207.03 340.67 208.60 343.80 C210.17 346.93 211.78 350.57 213.30 353.20 C214.82 355.83 216.97 358.53 217.70 359.60" fill="none" stroke="#ff0000" stroke-width="1.45" stroke-dasharray="1.4 1.7"/>
<path d="M51.07 328.90 C52.48 328.97 56.89 329.38 59.50 329.30 C62.11 329.22 64.30 328.88 66.70 328.40 C69.10 327.92 71.50 327.22 73.90 326.40 C76.30 325.58 78.68 324.47 81.10 323.50 C83.52 322.53 85.98 321.57 88.40 320.60 C90.82 319.63 92.83 319.02 95.60 317.70 C98.37 316.38 102.23 314.10 105.00 312.70 C107.77 311.30 109.78 310.23 112.20 309.30 C114.62 308.37 117.08 307.60 119.50 307.10 C121.92 306.60 124.30 306.32 126.70 306.30 C129.10 306.28 131.50 306.33 133.90 307.00 C136.30 307.67 138.68 308.67 141.10 310.30 C143.52 311.93 146.73 315.18 148.40 316.80 C150.07 318.42 149.90 318.23 151.10 320.00 C152.30 321.77 153.55 323.78 155.60 327.40 C157.65 331.02 161.17 337.68 163.40 341.70 C165.63 345.72 167.08 348.37 169.00 351.50 C170.92 354.63 173.32 358.33 174.90 360.50 C176.48 362.67 177.07 363.25 178.50 364.50 C179.93 365.75 181.62 367.08 183.50 368.00 C185.38 368.92 187.88 369.58 189.80 370.00 C191.72 370.42 194.13 370.42 195.00 370.50" fill="none" stroke="#0000ff" stroke-width="1.45" stroke-dasharray="5.8 3.85"/>
<path d="M51.07 344.80 C52.71 346.37 59.26 352.63 60.90 354.20 C61.87 354.55 63.80 355.70 66.70 356.30 C69.60 356.90 74.68 357.63 78.30 357.80 C81.92 357.97 83.95 357.62 88.40 357.30 C92.85 356.98 98.40 356.45 105.00 355.90 C111.60 355.35 122.17 354.65 128.00 354.00 C133.83 353.35 135.67 352.58 140.00 352.00 C144.33 351.42 150.67 350.50 154.00 350.50 C157.33 350.50 157.95 351.17 160.00 352.00 C162.05 352.83 164.22 354.00 166.30 355.50 C168.38 357.00 170.42 359.25 172.50 361.00 C174.58 362.75 176.72 364.68 178.80 366.00 C180.88 367.32 182.92 368.18 185.00 368.90 C187.08 369.62 190.25 370.07 191.30 370.30" fill="none" stroke="#ff00ff" stroke-width="1.45" stroke-dasharray="14.7 3.6"/>
<path d="M191.30 370.30 C195.72 370.33 213.38 370.47 217.80 370.50" fill="none" stroke="#ff00ff" stroke-width="1.45"/>
<path d="M225.06 268.70 C226.75 270.45 233.51 277.45 235.20 279.20 C236.28 279.20 239.42 279.63 241.70 279.20 C243.98 278.77 246.50 277.73 248.90 276.60 C251.30 275.47 253.68 273.95 256.10 272.40 C258.52 270.85 260.98 269.07 263.40 267.30 C265.82 265.53 267.83 263.93 270.60 261.80 C273.37 259.67 277.23 256.65 280.00 254.50 C282.77 252.35 284.78 250.68 287.20 248.90 C289.62 247.12 292.08 245.25 294.50 243.80 C296.92 242.35 299.30 241.00 301.70 240.20 C304.10 239.40 306.50 238.88 308.90 239.00 C311.30 239.12 313.68 239.62 316.10 240.90 C318.52 242.18 320.98 243.80 323.40 246.70 C325.82 249.60 328.55 254.42 330.60 258.30 C332.65 262.18 334.00 266.12 335.70 270.00 C337.40 273.88 339.23 278.35 340.80 281.60 C342.37 284.85 343.65 287.58 345.10 289.50 C346.55 291.42 348.05 292.02 349.50 293.10 C350.95 294.18 352.60 294.67 353.80 296.00 C355.00 297.33 355.73 298.68 356.70 301.10 C357.67 303.52 358.63 307.25 359.60 310.50 C360.57 313.75 361.67 318.28 362.50 320.60 C363.33 322.92 363.85 323.62 364.60 324.40 C365.35 325.18 366.15 325.12 367.00 325.30 C367.85 325.48 369.00 325.05 369.70 325.50 C370.40 325.95 370.72 326.92 371.20 328.00 C371.68 329.08 371.88 330.32 372.60 332.00 C373.32 333.68 374.68 336.73 375.50 338.10 C376.32 339.47 376.90 339.68 377.50 340.20 C378.10 340.72 378.63 340.57 379.10 341.20 C379.57 341.83 379.90 342.82 380.30 344.00 C380.70 345.18 380.85 346.75 381.50 348.30 C382.15 349.85 383.28 351.98 384.20 353.30 C385.12 354.62 386.05 355.00 387.00 356.20 C387.95 357.40 389.10 359.50 389.90 360.50 C390.70 361.50 391.48 361.92 391.80 362.20" fill="none" stroke="#000000" stroke-width="1.45"/>
<path d="M225.06 342.90 C226.63 342.48 230.53 341.42 234.50 340.40 C238.47 339.38 244.08 338.07 248.90 336.80 C253.72 335.53 258.22 334.18 263.40 332.80 C268.58 331.42 276.03 329.62 280.00 328.50 C283.97 327.38 284.78 326.93 287.20 326.10 C289.62 325.27 292.08 324.38 294.50 323.50 C296.92 322.62 299.30 321.68 301.70 320.80 C304.10 319.92 306.50 318.95 308.90 318.20 C311.30 317.45 313.68 316.67 316.10 316.30 C318.52 315.93 320.98 316.05 323.40 316.00 C325.82 315.95 328.67 315.93 330.60 316.00 C332.53 316.07 333.30 316.65 335.00 316.40 C336.70 316.15 338.87 315.73 340.80 314.50 C342.73 313.27 345.07 310.50 346.60 309.00 C348.13 307.50 349.05 306.33 350.00 305.50 C350.95 304.67 351.47 304.13 352.30 304.00 C353.13 303.87 354.27 304.28 355.00 304.70 C355.73 305.12 356.05 305.05 356.70 306.50 C357.35 307.95 358.18 311.05 358.90 313.40 C359.62 315.75 360.17 318.73 361.00 320.60 C361.83 322.47 362.90 323.82 363.90 324.60 C364.90 325.38 366.03 325.15 367.00 325.30 C367.97 325.45 369.00 325.05 369.70 325.50 C370.40 325.95 370.72 326.92 371.20 328.00 C371.68 329.08 371.88 330.32 372.60 332.00 C373.32 333.68 374.68 336.73 375.50 338.10 C376.32 339.47 376.90 339.68 377.50 340.20 C378.10 340.72 378.63 340.57 379.10 341.20 C379.57 341.83 379.90 342.82 380.30 344.00 C380.70 345.18 380.85 346.75 381.50 348.30 C382.15 349.85 383.28 351.98 384.20 353.30 C385.12 354.62 386.05 355.00 387.00 356.20 C387.95 357.40 389.10 359.50 389.90 360.50 C390.70 361.50 391.48 361.92 391.80 362.20" fill="none" stroke="#ff0000" stroke-width="1.45" stroke-dasharray="1.4 1.7"/>
<path d="M225.06 325.20 C226.63 325.45 231.73 326.57 234.50 326.70 C237.27 326.83 239.30 326.43 241.70 326.00 C244.10 325.57 246.50 324.83 248.90 324.10 C251.30 323.37 253.68 322.50 256.10 321.60 C258.52 320.70 260.98 319.58 263.40 318.70 C265.82 317.82 267.83 317.32 270.60 316.30 C273.37 315.28 277.23 313.73 280.00 312.60 C282.77 311.47 284.78 310.30 287.20 309.50 C289.62 308.70 292.08 308.17 294.50 307.80 C296.92 307.43 299.30 307.13 301.70 307.30 C304.10 307.47 306.50 307.83 308.90 308.80 C311.30 309.77 313.68 310.93 316.10 313.10 C318.52 315.27 320.98 318.42 323.40 321.80 C325.82 325.18 328.67 330.03 330.60 333.40 C332.53 336.77 333.48 338.97 335.00 342.00 C336.52 345.03 338.13 348.60 339.70 351.60 C341.27 354.60 342.57 357.52 344.40 360.00 C346.23 362.48 348.60 364.90 350.70 366.50 C352.80 368.10 355.12 368.93 357.00 369.60 C358.88 370.27 361.17 370.35 362.00 370.50" fill="none" stroke="#0000ff" stroke-width="1.45" stroke-dasharray="5.8 3.85"/>
<path d="M225.06 342.30 C226.63 343.92 232.93 350.38 234.50 352.00 C235.45 352.48 237.32 354.13 240.20 354.90 C243.08 355.67 247.93 356.37 251.80 356.60 C255.67 356.83 258.70 356.58 263.40 356.30 C268.10 356.02 273.40 355.45 280.00 354.90 C286.60 354.35 297.17 353.55 303.00 353.00 C308.83 352.45 310.67 352.03 315.00 351.60 C319.33 351.17 325.67 350.50 329.00 350.40 C332.33 350.30 333.00 350.15 335.00 351.00 C337.00 351.85 338.92 353.50 341.00 355.50 C343.08 357.50 345.37 361.08 347.50 363.00 C349.63 364.92 351.72 365.95 353.80 367.00 C355.88 368.05 357.97 368.72 360.00 369.30 C362.03 369.88 365.00 370.30 366.00 370.50" fill="none" stroke="#ff00ff" stroke-width="1.45" stroke-dasharray="14.7 3.6"/>
<path d="M366.00 370.50 C370.30 370.50 387.50 370.50 391.80 370.50" fill="none" stroke="#ff00ff" stroke-width="1.45"/>
<path d="M44.70 35.20 L68.10 35.20" fill="none" stroke="#000000" stroke-width="1.45"/>
<path d="M44.70 47.90 L68.10 47.90" fill="none" stroke="#ff0000" stroke-width="1.45" stroke-dasharray="1.4 1.7"/>
<path d="M44.70 59.80 L68.10 59.80" fill="none" stroke="#0000ff" stroke-width="1.45" stroke-dasharray="5.8 3.85"/>
<path d="M44.70 72.40 L68.10 72.40" fill="none" stroke="#ff00ff" stroke-width="1.45" stroke-dasharray="14.7 3.6"/>
<g style="will-change:transform;text-rendering:geometricPrecision">
<text x="74.00" y="34.90" text-anchor="start" fill="#000000" font-size="9.50">total</text>
<text x="74.00" y="46.90" text-anchor="start" fill="#ff0000" font-size="9.50">scalar</text>
<text x="74.00" y="59.90" text-anchor="start" fill="#0000ff" font-size="9.50">vector</text>
<text x="74.00" y="72.50" text-anchor="start" fill="#ff00ff" font-size="9.50">tensor</text>
<text x="178.60" y="47.20" text-anchor="start" fill="#000" font-size="9.50">strings</text>
<text x="335.00" y="47.20" text-anchor="start" fill="#000" font-size="9.50">monopoles</text>
<text x="167.40" y="221.20" text-anchor="start" fill="#000" font-size="9.50">textures</text>
<text x="329.60" y="221.20" text-anchor="start" fill="#000" font-size="9.50">nt. textures</text>
<text x="91.60" y="17.60" text-anchor="middle" fill="#000" font-size="9.50">10</text>
<text x="91.60" y="386.30" text-anchor="middle" fill="#000" font-size="9.50">10</text>
<text x="149.60" y="17.60" text-anchor="middle" fill="#000" font-size="9.50">100</text>
<text x="149.60" y="386.30" text-anchor="middle" fill="#000" font-size="9.50">100</text>
<text x="207.60" y="17.60" text-anchor="middle" fill="#000" font-size="9.50">1000</text>
<text x="207.60" y="386.30" text-anchor="middle" fill="#000" font-size="9.50">1000</text>
<text x="265.60" y="17.60" text-anchor="middle" fill="#000" font-size="9.50">10</text>
<text x="265.60" y="386.30" text-anchor="middle" fill="#000" font-size="9.50">10</text>
<text x="323.60" y="17.60" text-anchor="middle" fill="#000" font-size="9.50">100</text>
<text x="323.60" y="386.30" text-anchor="middle" fill="#000" font-size="9.50">100</text>
<text x="381.60" y="17.60" text-anchor="middle" fill="#000" font-size="9.50">1000</text>
<text x="381.60" y="386.30" text-anchor="middle" fill="#000" font-size="9.50">1000</text>
<text x="40.20" y="201.00" text-anchor="end" fill="#000" font-size="9.50">0</text>
<text x="399.10" y="201.20" text-anchor="start" fill="#000" font-size="9.50">0</text>
<text x="40.20" y="138.86" text-anchor="end" fill="#000" font-size="9.50">500</text>
<text x="399.10" y="139.06" text-anchor="start" fill="#000" font-size="9.50">500</text>
<text x="40.20" y="76.71" text-anchor="end" fill="#000" font-size="9.50">1000</text>
<text x="399.10" y="76.91" text-anchor="start" fill="#000" font-size="9.50">1000</text>
<text x="40.20" y="375.00" text-anchor="end" fill="#000" font-size="9.50">0</text>
<text x="399.10" y="375.20" text-anchor="start" fill="#000" font-size="9.50">0</text>
<text x="40.20" y="312.86" text-anchor="end" fill="#000" font-size="9.50">500</text>
<text x="399.10" y="313.06" text-anchor="start" fill="#000" font-size="9.50">500</text>
<text x="40.20" y="250.71" text-anchor="end" fill="#000" font-size="9.50">1000</text>
<text x="399.10" y="250.91" text-anchor="start" fill="#000" font-size="9.50">1000</text>
<text x="130.20" y="399.60" text-anchor="middle" fill="#000" font-size="10.00">l</text>
<text x="304.30" y="399.60" text-anchor="middle" fill="#000" font-size="10.00">l</text>
<text transform="translate(10.7 146.70) rotate(-90)" font-weight="bold" font-size="9.3"><tspan x="-0.3 1.7 6.5 9.4 15.4 21.0 25.2">l(l+1)C</tspan><tspan x="30.9" dy="2.2" font-size="6.3">l</tspan><tspan x="32.2" dy="0.4" font-size="12.5" rotate="16">/</tspan><tspan x="39.5 46.0 52.0 56.1 62.1" dy="-2.6">2&#960;[&#956;K</tspan><tspan x="68.3" dy="-2.9" font-size="5.6">2</tspan><tspan x="71.2" dy="2.9">]</tspan></text>
<text transform="translate(10.7 320.70) rotate(-90)" font-weight="bold" font-size="9.3"><tspan x="-0.3 1.7 6.5 9.4 15.4 21.0 25.2">l(l+1)C</tspan><tspan x="30.9" dy="2.2" font-size="6.3">l</tspan><tspan x="32.2" dy="0.4" font-size="12.5" rotate="16">/</tspan><tspan x="39.5 46.0 52.0 56.1 62.1" dy="-2.6">2&#960;[&#956;K</tspan><tspan x="68.3" dy="-2.9" font-size="5.6">2</tspan><tspan x="71.2" dy="2.9">]</tspan></text>
</g>
</svg>
</body></html>
